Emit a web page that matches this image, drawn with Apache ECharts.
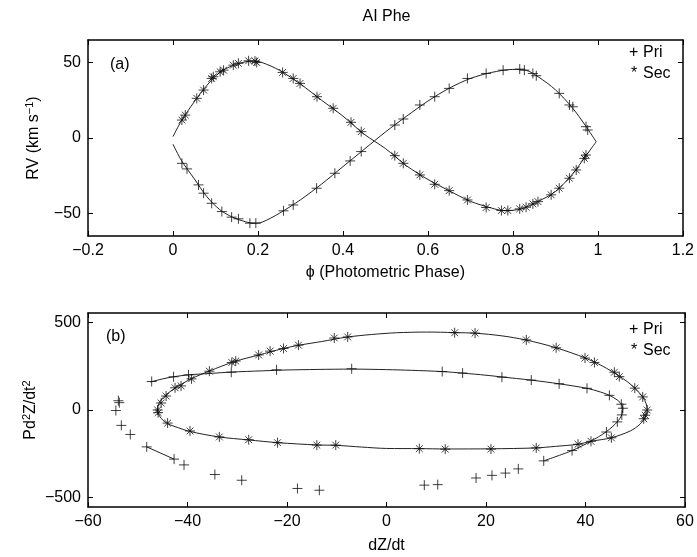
<!DOCTYPE html>
<html><head><meta charset="utf-8">
<script src="https://cdn.jsdelivr.net/npm/echarts@6/dist/echarts.min.js"></script>
<style>html,body{margin:0;padding:0;background:#fff}#c{width:697px;height:557px}</style>
</head><body><div id="c"></div>
<script>
// ---------- Panel (a): radial velocities ----------
const priPhase = [0.021,0.033,0.060,0.072,0.091,0.115,0.138,0.154,0.181,0.195,0.260,0.283,0.338,0.381,0.417,0.443,0.522,0.542,0.581,0.616,0.650,0.693,0.737,0.777,0.816,0.827,0.847,0.855,0.909,0.933,0.941,0.972,0.976];
const priRV    = [-16.8,-20.5,-31.1,-36.6,-43.3,-48.8,-52.5,-53.6,-56.5,-56.5,-48.3,-44.4,-33.3,-23.4,-15.2,-9.0,8.6,12.6,21.9,27.4,32.9,39.5,42.8,45.0,45.7,45.0,42.8,41.3,29.6,21.9,20.7,7.5,5.3];
const secPhase = [0.021,0.029,0.056,0.072,0.091,0.095,0.111,0.119,0.142,0.154,0.178,0.193,0.197,0.258,0.283,0.299,0.339,0.377,0.419,0.443,0.522,0.542,0.581,0.616,0.650,0.693,0.737,0.773,0.788,0.816,0.831,0.847,0.859,0.890,0.909,0.933,0.949,0.968,0.972];
const secRV    = [11.9,15.2,26.3,31.8,39.5,40.6,43.9,45.0,48.3,49.5,51.2,51.0,50.1,43.5,39.5,36.2,27.4,19.7,10.4,4.2,-11.7,-16.8,-24.5,-30.7,-34.9,-41.1,-46.1,-48.1,-48.1,-47.0,-45.9,-43.7,-42.2,-37.7,-33.3,-26.7,-21.2,-13.5,-11.3];
const modelPhasePri = [0,0.02,0.05,0.08,0.11,0.14,0.17,0.19,0.21,0.25,0.30,0.35,0.40,0.45,0.50,0.55,0.60,0.65,0.70,0.75,0.80,0.83,0.86,0.90,0.94,0.97,0.996];
const modelRVPri    = [-4.1,-15,-27,-39,-47.5,-52.5,-55.5,-56.5,-55.8,-50,-41,-30.5,-19,-7.5,4,14.5,24.5,33,39.5,43.5,45.5,45,40.5,32,20,8.5,-2.5];
const modelPhaseSec = [0,0.02,0.05,0.08,0.11,0.14,0.17,0.19,0.21,0.25,0.30,0.35,0.40,0.45,0.50,0.55,0.60,0.65,0.70,0.75,0.78,0.82,0.86,0.90,0.94,0.97,0.996];
const modelRVSec    = [0.9,11.5,24,35,43.5,48,50.5,51,50,45,35.8,25,14.5,2.5,-7,-18.5,-27.5,-35,-42,-46.5,-48.2,-47,-42,-35.5,-24,-12.5,-2.5];

// ---------- Panel (b): dZ/dt vs P d2Z/dt2 ----------
const priDz = [-47.2,-42.8,-39.8,-31.2,-22.1,-7.0,11.2,15.3,23.2,29.1,34.7,40.3,44.8,47.2,47.5,47.3,46.4,44.2,37.3,31.6,
               -53.9,-53.7,-54.4,-53.3,-51.5,-48.2,-42.7,-40.7,-34.5,-29.1,-17.9,-13.5,7.6,10.3,18.0,21.2,23.9,26.5];
const priD2 = [163,190,201,216,230,236,220,211,188,171,150,124,84,33,10,-28,-68,-126,-232,-291,
               53,42,-3,-88,-140,-211,-281,-314,-369,-402,-449,-459,-430,-427,-389,-374,-361,-337];
const secDz = [-10.5,-7.8,-17.7,-20.7,-23.4,-25.7,-30.3,-31.1,-35.6,-39.2,-41.3,-42.5,-44.3,-45.3,-46.0,-45.9,-44.0,-39.5,-33.6,-27.7,-21.9,-14.0,-10.2,
               13.7,17.8,28.1,34.1,39.9,41.8,45.8,46.8,49.9,51.5,52.4,52.0,51.7,45.2,41.1,38.5,30.1,21.0,11.8,6.6];
const secD2 = [412,418,371,352,337,315,280,272,222,178,138,127,80,40,0,-15,-75,-120,-154,-170,-187,-201,-201,
               442,440,401,356,297,272,216,191,125,75,0,-30,-50,-159,-179,-196,-217,-224,-224,-221];
const modelPriDz = [-47.5,-45,-42.8,-39.8,-35,-31.2,-25,-20,-14,-7,0,5,11.2,15.3,20,23.2,29.1,34.7,40.3,43,44.8,46.5,47.3,47.5,47.4,47.3,46.4,44.2,41,37.3,31.6];
const modelPriD2 = [160,178,190,201,210,217,224,229,232,234,231,227,220,211,199,189,171,150,124,103,84,55,30,10,-15,-28,-68,-124,-180,-232,-291];
const segPriDz = [-48.2,-42.7];
const segPriD2 = [-211,-281];
const modelSecDz = [-46.1,-45.7,-44.6,-42.5,-39.3,-35.6,-30.5,-25.6,-21,-17.7,-13,-8,-3,2,8,13.7,18,23,28,34.1,40,43.5,46.3,48.5,50,51.5,52.2,52.4,52.1,51,49,45.2,41.1,38.5,34,30,21,12,6.6,0,-5,-10.2,-14,-21.8,-27.8,-33.7,-39.6,-42.5,-44.2,-45.5,-46.1];
const modelSecD2 = [0,40,80,125,178,223,278,315,350,370,392,417,432,442,446,443,439,425,401,356,297,250,203,160,122,75,35,0,-35,-80,-120,-159,-179,-196,-208,-217,-222,-223,-221,-220,-212,-202,-200,-187,-171,-154,-122,-95,-75,-40,0];

// ---------- Ticks ----------
const topXTicks = [-0.2,0,0.2,0.4,0.6,0.8,1,1.2];
const topXLabels = ['\u22120.2','0','0.2','0.4','0.6','0.8','1','1.2'];
const topYTicks = [-50,0,50];
const topYLabels = ['\u221250','0','50'];
const botXTicks = [-60,-40,-20,0,20,40,60];
const botXLabels = ['\u221260','\u221240','\u221220','0','20','40','60'];
const botYTicks = [-500,0,500];
const botYLabels = ['\u2212500','0','500'];

const zip = (a,b) => a.map((v,i)=>[v,b[i]]);
const font = '"Liberation Sans", Arial, Helvetica, sans-serif';
const FS = 16;
function lab(ticks, labels){ return v => { const i = ticks.findIndex(t=>Math.abs(t-v)<1e-6); return i>=0?labels[i]:''; }; }
function axis(grid, pos, min, max, ticks, labels, extra){
  return Object.assign({
    type:'value', gridIndex:grid, position:pos, min:min, max:max,
    nameMoveOverlap:false,
    splitLine:{show:false},
    axisLine:{show:true, onZero:false, lineStyle:{color:'#000', width:1.5}},
    axisTick:{show:true, inside:true, length:5, customValues:ticks, lineStyle:{color:'#000', width:1}},
    axisLabel:{show:!!labels, customValues:ticks, formatter: labels?lab(ticks,labels):undefined, color:'#000', fontSize:FS, fontFamily:font, margin:7}
  }, extra||{});
}
const plusPath = 'path://M0,5L10,5M5,0L5,10';
const starPath = 'path://M0,5L10,5M5,0L5,10M1.6,1.6L8.4,8.4M1.6,8.4L8.4,1.6';
const mk = (sym) => ({type:'scatter', symbol:sym, symbolSize:10, itemStyle:{color:'rgba(0,0,0,0)', borderColor:'#111', borderWidth:1}, z:3, silent:true});
const ln = (data) => ({type:'line', data:data, showSymbol:false, symbol:'none', smooth:0.3, lineStyle:{color:'#222', width:1}, z:2, silent:true});
const nameStyle = {color:'#000', fontSize:FS, fontFamily:font, lineHeight:20,
  rich:{n:{fontSize:FS, fontFamily:font, color:'#000', lineHeight:20}, s:{fontSize:11, fontFamily:font, color:'#000', lineHeight:11, verticalAlign:'top'}}};
const txt = (x, y, t) => ({type:'text', x:x, y:y, style:{text:t, align:'left', verticalAlign:'middle', fontSize:FS, fontFamily:font, fill:'#000'}});

const chart = echarts.init(document.getElementById('c'), null, {renderer:'canvas'});
chart.setOption({
  animation:false,
  backgroundColor:'#fff',
  grid:[
    {left:88, top:40, width:597, height:196},
    {left:88, top:313, width:597, height:197}
  ],
  xAxis:[
    axis(0,'bottom',-0.2,1.2,topXTicks,topXLabels,{name:'\u03d5 (Photometric Phase)', nameLocation:'middle', nameGap:27, nameTextStyle:nameStyle}),
    axis(0,'top',-0.2,1.2,topXTicks,null),
    axis(1,'bottom',-60,60,botXTicks,botXLabels,{name:'dZ/dt', nameLocation:'middle', nameGap:29, nameTextStyle:nameStyle}),
    axis(1,'top',-60,60,botXTicks,null)
  ],
  yAxis:[
    axis(0,'left',-65,65,topYTicks,topYLabels,{name:'{n|RV (km s}{s|\u22121}{n|)}', nameLocation:'middle', nameRotate:90, nameGap:44, nameTextStyle:nameStyle}),
    axis(0,'right',-65,65,topYTicks,null),
    axis(1,'left',-555,555,botYTicks,botYLabels,{name:'{n|Pd}{s|2}{n|Z/dt}{s|2}', nameLocation:'middle', nameRotate:90, nameGap:47, nameTextStyle:nameStyle}),
    axis(1,'right',-555,555,botYTicks,null)
  ],
  series:[
    Object.assign(ln(zip(modelPhasePri,modelRVPri)),{xAxisIndex:0,yAxisIndex:0}),
    Object.assign(ln(zip(modelPhaseSec,modelRVSec)),{xAxisIndex:0,yAxisIndex:0}),
    Object.assign(mk(plusPath),{name:'Pri',xAxisIndex:0,yAxisIndex:0,data:zip(priPhase,priRV)}),
    Object.assign(mk(starPath),{name:'Sec',xAxisIndex:0,yAxisIndex:0,data:zip(secPhase,secRV)}),
    Object.assign(ln(zip(modelPriDz,modelPriD2)),{xAxisIndex:2,yAxisIndex:2}),
    Object.assign(ln(zip(segPriDz,segPriD2)),{xAxisIndex:2,yAxisIndex:2, smooth:false}),
    Object.assign(ln(zip(modelSecDz,modelSecD2)),{xAxisIndex:2,yAxisIndex:2}),
    Object.assign(mk(plusPath),{name:'Pri',xAxisIndex:2,yAxisIndex:2,data:zip(priDz,priD2)}),
    Object.assign(mk(starPath),{name:'Sec',xAxisIndex:2,yAxisIndex:2,data:zip(secDz,secD2)})
  ],
  graphic:[
    {type:'text', x:386.5, y:17, style:{text:'AI Phe', align:'center', verticalAlign:'middle', fontSize:FS, fontFamily:font, fill:'#000'}},
    txt(110, 65, '(a)'),
    txt(106, 337, '(b)'),
    txt(629, 53, '+'), txt(643, 53, 'Pri'),
    txt(631, 74, '*'), txt(643, 74, 'Sec'),
    txt(629, 330, '+'), txt(643, 330, 'Pri'),
    txt(631, 351, '*'), txt(643, 351, 'Sec')
  ]
});
</script></body></html>
